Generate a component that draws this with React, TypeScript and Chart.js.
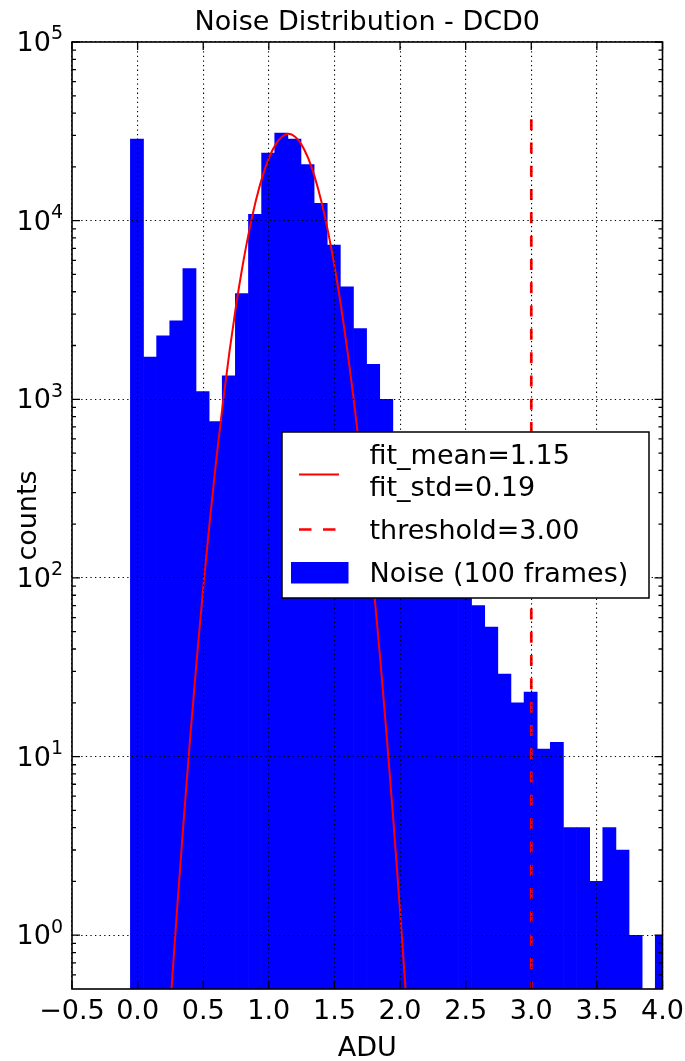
import { useEffect, useRef } from 'react';
import { Chart, registerables } from 'chart.js';

Chart.register(...registerables);

// ---- data ----
const binCenters = [
  -0.005, 0.095, 0.195, 0.295, 0.395, 0.495, 0.595, 0.695, 0.795, 0.895,
  0.995, 1.095, 1.195, 1.295, 1.395, 1.495, 1.595, 1.695, 1.795, 1.895,
  1.995, 2.095, 2.195, 2.295, 2.395, 2.495, 2.595, 2.695, 2.795, 2.895,
  2.995, 3.095, 3.195, 3.295, 3.395, 3.495, 3.595, 3.695, 3.795, 3.895, 3.995,
];
const noiseCounts: (number | null)[] = [
  28600, 1725, 2265, 2750, 5390, 1103, 750, 1351, 3910, 10860,
  23900, 30900, 28600, 20600, 12500, 7300, 4260, 2490, 1570, 1000,
  620, 390, 250, 160, 112, 84, 70, 53, 29, 20,
  23, 11, 12, 4, 4, 2, 4, 3, 1, null, 1,
];

const fitX = [
  0.25, 0.3, 0.35, 0.4, 0.45, 0.5, 0.55, 0.6, 0.65, 0.7, 0.75, 0.8, 0.85, 0.9, 0.95, 1.0, 1.05, 1.1,
  1.15,
  1.2, 1.25, 1.3, 1.35, 1.4, 1.45, 1.5, 1.55, 1.6, 1.65, 1.7, 1.75, 1.8, 1.85, 1.9, 1.95, 2.0, 2.05,
];
const fitY = [
  0.41, 1.37, 4.3, 12.6, 34.5, 88, 208, 462, 956, 1850, 3330, 5590, 8770, 12840, 17520, 22350, 26560, 29460,
  30600,
  29460, 26560, 22350, 17520, 12840, 8770, 5590, 3330, 1850, 956, 462, 208, 88, 34.5, 12.6, 4.3, 1.37, 0.41,
];

const thresholdX = [3.0, 3.0];
const thresholdY = [37000, 0.3];

const xTickValues = [-0.5, 0, 0.5, 1.0, 1.5, 2.0, 2.5, 3.0, 3.5, 4.0];
const yTickValues = [1, 10, 100, 1000, 10000, 100000];
const yTickExponents = ['0', '1', '2', '3', '4', '5'];
const yMinorMultipliers = [2, 3, 4, 5, 6, 7, 8, 9];

const FONT = 'DejaVu Sans';

const decorPlugin = {
  id: 'mplDecor',
  afterDraw(chart: any) {
    const { ctx, chartArea: a, scales } = chart;
    const xs = scales.x;
    const ys = scales.y;
    ctx.save();

    // ---- legend ----
    const lx = a.left + 210, ly = a.top + 390, lw = 367, lh = 166;
    ctx.fillStyle = '#ffffff';
    ctx.fillRect(lx, ly, lw, lh);
    ctx.strokeStyle = '#000';
    ctx.lineWidth = 1.5;
    ctx.strokeRect(lx, ly, lw, lh);

    const ds = chart.data.datasets;
    const fitDs = ds[1];
    const thrDs = ds[2];
    const barDs = ds[0];
    ctx.font = `27px "${FONT}"`;
    ctx.fillStyle = '#000';
    ctx.textAlign = 'left';
    ctx.textBaseline = 'alphabetic';
    const tx = lx + 87.5;

    // fit entry
    ctx.strokeStyle = fitDs.borderColor;
    ctx.lineWidth = fitDs.borderWidth;
    ctx.setLineDash([]);
    ctx.beginPath();
    ctx.moveTo(lx + 17, ly + 42.5);
    ctx.lineTo(lx + 57, ly + 42.5);
    ctx.stroke();
    const fitLines = String(fitDs.label).split('\n');
    ctx.fillText(fitLines[0], tx, ly + 32);
    ctx.fillText(fitLines[1], tx, ly + 64);

    // threshold entry
    ctx.strokeStyle = thrDs.borderColor;
    ctx.lineWidth = thrDs.borderWidth;
    ctx.setLineDash([12.5, 11.5]);
    ctx.beginPath();
    ctx.moveTo(lx + 17, ly + 97.5);
    ctx.lineTo(lx + 57, ly + 97.5);
    ctx.stroke();
    ctx.setLineDash([]);
    ctx.fillText(String(thrDs.label), tx, ly + 107);

    // bars entry
    ctx.fillStyle = barDs.backgroundColor;
    ctx.fillRect(lx + 9, ly + 130, 57.5, 21.5);
    ctx.fillStyle = '#000';
    ctx.fillText(String(barDs.label), tx, ly + 149.5);

    // ---- tick marks (inside, all four sides) ----
    ctx.strokeStyle = '#000';
    ctx.lineWidth = 1.3;
    ctx.beginPath();
    for (const v of xTickValues) {
      const px = xs.getPixelForValue(v);
      ctx.moveTo(px, a.bottom);
      ctx.lineTo(px, a.bottom - 8);
      ctx.moveTo(px, a.top);
      ctx.lineTo(px, a.top + 8);
    }
    for (const v of yTickValues) {
      const py = ys.getPixelForValue(v);
      ctx.moveTo(a.left, py);
      ctx.lineTo(a.left + 8, py);
      ctx.moveTo(a.right, py);
      ctx.lineTo(a.right - 8, py);
    }
    const decadesForMinor = [0.1, 1, 10, 100, 1000, 10000];
    for (const d of decadesForMinor) {
      for (const m of yMinorMultipliers) {
        const v = d * m;
        if (v <= ys.min || v >= ys.max) continue;
        const py = ys.getPixelForValue(v);
        ctx.moveTo(a.left, py);
        ctx.lineTo(a.left + 4, py);
        ctx.moveTo(a.right, py);
        ctx.lineTo(a.right - 4, py);
      }
    }
    ctx.stroke();

    // ---- frame ----
    ctx.lineWidth = 1.6;
    ctx.strokeRect(a.left, a.top, a.right - a.left, a.bottom - a.top);

    // ---- y tick labels 10^n ----
    ctx.fillStyle = '#000';
    ctx.textBaseline = 'alphabetic';
    ctx.textAlign = 'left';
    yTickValues.forEach((v, i) => {
      const py = ys.getPixelForValue(v);
      const exp = yTickExponents[i];
      ctx.font = `19px "${FONT}"`;
      const ew = ctx.measureText(exp).width;
      ctx.font = `27px "${FONT}"`;
      const bw = ctx.measureText('10').width;
      const xEnd = a.left - 9;
      ctx.fillText('10', xEnd - ew - bw, py + 9);
      ctx.font = `19px "${FONT}"`;
      ctx.fillText(exp, xEnd - ew, py - 2.7);
    });

    ctx.restore();
  },
};

export default function App() {
  const ref = useRef<HTMLCanvasElement | null>(null);

  useEffect(() => {
    if (!ref.current) return;
    Chart.defaults.font.family = FONT;
    Chart.defaults.color = '#000';

    const barData = binCenters.map((x, i) => ({ x, y: noiseCounts[i] }));
    const fitData = fitX.map((x, i) => ({ x, y: fitY[i] }));
    const thrData = thresholdX.map((x, i) => ({ x, y: thresholdY[i] }));

    const gridStyle = { color: '#000', lineWidth: 1.1, drawTicks: false, z: 1, offset: false };

    const chart = new Chart(ref.current, {
      type: 'bar',
      data: {
        datasets: [
          {
            type: 'bar',
            label: 'Noise (100 frames)',
            data: barData as any,
            backgroundColor: '#0000ff',
            borderWidth: 0,
            barPercentage: 1,
            categoryPercentage: 1,
            order: 3,
          },
          {
            type: 'line',
            label: 'fit_mean=1.15\nfit_std=0.19',
            data: fitData as any,
            borderColor: '#ff0000',
            backgroundColor: '#ff0000',
            borderWidth: 2,
            pointRadius: 0,
            cubicInterpolationMode: 'monotone',
            fill: false,
            clip: 0,
            order: 1,
          },
          {
            type: 'line',
            label: 'threshold=3.00',
            data: thrData as any,
            borderColor: '#ff0000',
            backgroundColor: '#ff0000',
            borderWidth: 2.7,
            borderDash: [11, 12.3],
            pointRadius: 0,
            fill: false,
            clip: 0,
            order: 2,
          },
        ],
      } as any,
      options: {
        animation: false,
        responsive: false,
        devicePixelRatio: 1,
        layout: { padding: { left: 0, top: 0, right: 22.5, bottom: 0 } },
        plugins: {
          legend: { display: false },
          tooltip: { enabled: false },
          title: {
            display: true,
            text: 'Noise Distribution - DCD0',
            fullSize: false,
            color: '#000',
            font: { family: FONT, size: 27, weight: 'normal', lineHeight: 1.2 },
            padding: { top: 6.3, bottom: 3.3 },
          },
        },
        scales: {
          x: {
            type: 'linear',
            min: -0.5,
            max: 4.0,
            offset: false,
            grid: gridStyle,
            border: { display: false, dash: [1.3, 3.3] },
            afterBuildTicks: (s: any) => {
              s.ticks = xTickValues.map((v) => ({ value: v }));
            },
            afterFit: (s: any) => {
              s.height = 72;
              s.paddingLeft = 0;
              s.paddingRight = 0;
            },
            ticks: {
              autoSkip: false,
              maxRotation: 0,
              minRotation: 0,
              padding: 7,
              color: '#000',
              font: { family: FONT, size: 27 },
              callback: (v: any) => {
                const n = Number(v);
                return (n < 0 ? '\u2212' : '') + Math.abs(n).toFixed(1);
              },
            },
            title: {
              display: true,
              text: 'ADU',
              color: '#000',
              font: { family: FONT, size: 27 },
              padding: { top: 0, bottom: -4.2 },
            },
          },
          y: {
            type: 'logarithmic',
            min: 0.5,
            max: 100000,
            grid: gridStyle,
            border: { display: false, dash: [1.3, 3.3] },
            afterBuildTicks: (s: any) => {
              s.ticks = yTickValues.map((v) => ({ value: v, major: true }));
            },
            afterFit: (s: any) => {
              s.width = 72;
              s.paddingTop = 0;
              s.paddingBottom = 0;
            },
            ticks: { display: false },
            title: {
              display: true,
              text: 'counts',
              color: '#000',
              font: { family: FONT, size: 27 },
              padding: { top: 12.5, bottom: 0 },
            },
          },
        },
      } as any,
      plugins: [decorPlugin],
    });

    return () => chart.destroy();
  }, []);

  return (
    <div style={{ position: 'absolute', left: 0, top: 0, width: 685, height: 1061, background: '#fff' }}>
      <canvas ref={ref} width={685} height={1061} style={{ display: 'block', width: 685, height: 1061 }} />
    </div>
  );
}
